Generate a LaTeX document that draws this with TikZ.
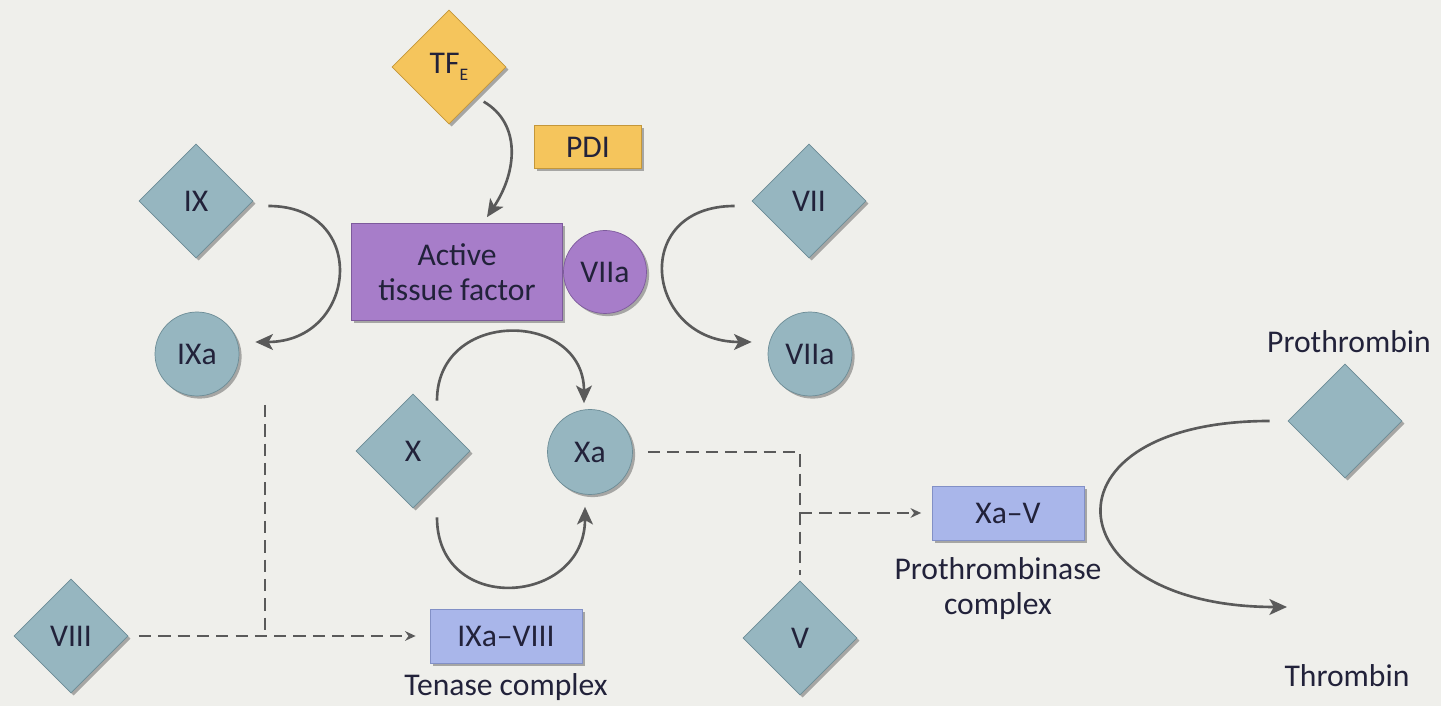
\documentclass[tikz,border=0pt]{standalone}
\usepackage{fontspec}
\setmainfont{Carlito}
\usetikzlibrary{shapes.geometric,arrows.meta,shadows,calc}
\definecolor{PaperGray}{HTML}{EFEFEB}
\definecolor{FactorBlue}{HTML}{96B6C0}
\definecolor{FactorEdge}{HTML}{6C8C96}
\definecolor{TissuePurple}{HTML}{A77DC9}
\definecolor{TissueEdge}{HTML}{7D5A9C}
\definecolor{ComplexBlue}{HTML}{A9B6EA}
\definecolor{ComplexEdge}{HTML}{8290C6}
\definecolor{ThiolYellow}{HTML}{F5C55C}
\definecolor{ThiolEdge}{HTML}{C4973A}
\definecolor{LinkGray}{HTML}{5A5A5A}
\definecolor{InkDark}{HTML}{22223A}

\begin{document}
\begin{tikzpicture}[x=0.02cm, y=0.02cm,
    every node/.style={font=\fontsize{18}{20}\selectfont, text=InkDark},
    lift/.style={drop shadow={shadow xshift=1.5pt, shadow yshift=-1.5pt, opacity=0.3, fill=black}},
    zymogen/.style={diamond, aspect=1, minimum size=2.28cm, inner sep=0pt, fill=FactorBlue, draw=FactorEdge, lift},
    enzyme/.style={circle, minimum size=1.68cm, inner sep=0pt, fill=FactorBlue, draw=FactorEdge, lift},
    cplx/.style={rectangle, fill=ComplexBlue, draw=ComplexEdge, lift, minimum width=3.04cm, minimum height=1.08cm},
    note/.style={inner sep=0pt, align=center},
    conv/.style={-{Stealth[length=10pt, width=9pt, inset=2.5pt]}, line width=1.5pt, draw=LinkGray},
    link/.style={line width=1.2pt, draw=LinkGray, dash pattern=on 7pt off 4pt},
    linkarrow/.style={link, -{Stealth[length=6pt, width=5.5pt]}}
  ]
    \fill[PaperGray] (0,0) rectangle (1441,706);
    \useasboundingbox (0,0) rectangle (1441,706);

    \node[zymogen, fill=ThiolYellow, draw=ThiolEdge] (tfe) at (449,639) {TF\raisebox{-0.5ex}{\fontsize{10}{10}\selectfont E}};
    \node[rectangle, fill=ThiolYellow, draw=ThiolEdge, lift, minimum width=2.14cm, minimum height=0.86cm] (pdi) at (588,559) {PDI};
    \node[rectangle, fill=TissuePurple, draw=TissueEdge, lift, minimum width=4.22cm, minimum height=1.94cm, align=center] (atf) at (457,434) {Active\\tissue factor};
    \node[enzyme, fill=TissuePurple, draw=TissueEdge, minimum size=1.66cm] (tfviia) at (605,434) {VIIa};

    \node[zymogen] (ix) at (196,505) {IX};
    \node[enzyme] (ixa) at (197,352) {IXa};
    \node[zymogen] (vii) at (809,505) {VII};
    \node[enzyme] (viia) at (810,352) {VIIa};
    \node[zymogen] (x) at (413,255) {X};
    \node[enzyme, minimum size=1.7cm] (xa) at (590,254) {Xa};
    \node[zymogen] (viii) at (71,70) {VIII};
    \node[cplx] (tenase) at (506,70) {IXa–VIII};
    \node[note] (tenasename) at (506,19) {Tenase complex};
    \node[zymogen] (v) at (800,68) {V};
    \node[cplx] (prothase) at (1008,193) {Xa–V};
    \node[note] (prothasename) at (998,117) {Prothrombinase\\complex};
    \node[zymogen] (proth) at (1345,285) {};
    \node[note] (prothname) at (1349,364) {Prothrombin};
    \node[note] (thrombin) at (1347,30) {Thrombin};
    \coordinate (thrtip) at (1287,99);
    \coordinate (ixadrop) at (265,301);

    \draw[conv] ($(tfe.south east)+(6,-6)$) .. controls +(38,-22) and +(30,45) .. ($(atf.north)+(30,6)$);
    \draw[conv] ($(ix.east)+(15,-5)$) .. controls +(102,0) and +(102,0) .. ($(ixa.east)+(16,12)$);
    \draw[conv] ($(vii.west)+(-17,-5)$) .. controls +(-106,0) and +(-106,0) .. ($(viia.west)+(-16,12)$);
    \draw[conv] ($(x.north)+(24,-7)$) .. controls +(0,93) and +(0,93) .. ($(xa.north)+(-6,6)$);
    \draw[conv] ($(x.south)+(24,-9)$) .. controls +(0,-99) and +(0,-99) .. ($(xa.south)+(-5,-12)$);
    \draw[conv] ($(proth.west)+(-18,0)$) .. controls +(-235,0) and +(-235,0) .. (thrtip);

    \draw[link] (ixadrop) -- (ixadrop |- viii);
    \draw[linkarrow, shorten <=6pt, shorten >=8pt] (viii.east) -- (viii.east -| tenase.west);
    \draw[link, shorten <=8.5pt, shorten >=3.5pt] (xa.east) -| (v.north);
    \draw[linkarrow, shorten >=6pt] (v.north |- prothase.west) -- (prothase.west);
  \end{tikzpicture}
\end{document}
